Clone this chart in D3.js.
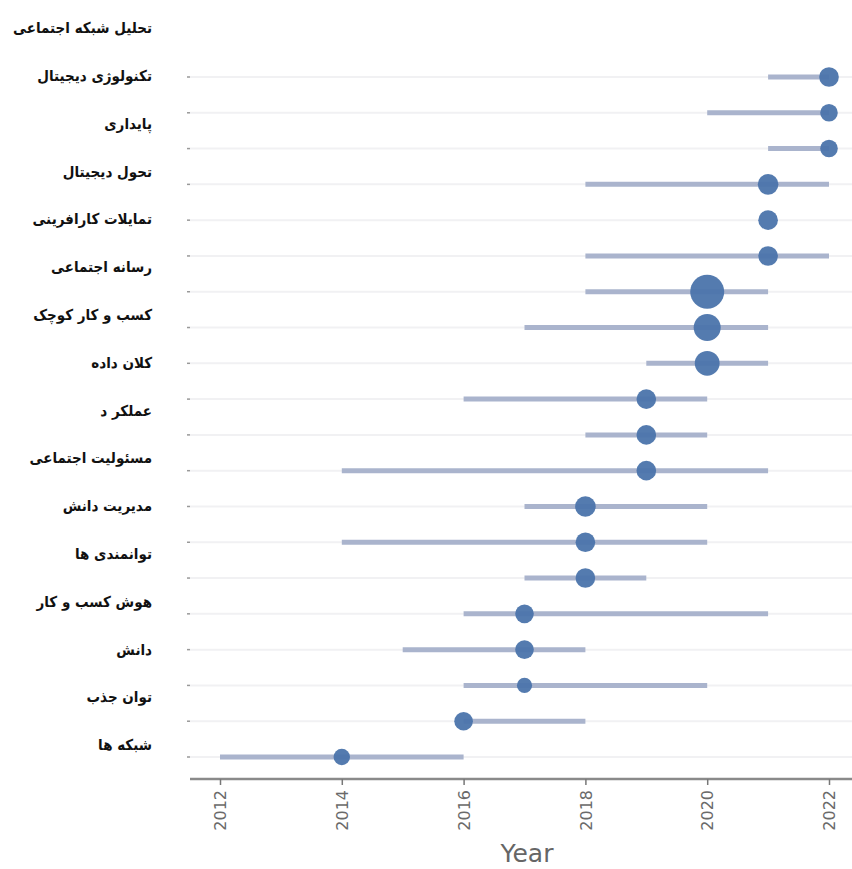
<!DOCTYPE html>
<html><head><meta charset="utf-8">
<script src="https://cdn.jsdelivr.net/npm/d3@7"></script>
<style>body{margin:0;background:#fff}svg{display:block}</style>
</head><body>
<script>
const labels = ["تحلیل شبکه اجتماعی","تکنولوژی دیجیتال","پایداری","تحول دیجیتال","تمایلات کارافرینی","رسانه اجتماعی","کسب و کار کوچک","کلان داده","عملکر د","مسئولیت اجتماعی","مدیریت دانش","توانمندی ها","هوش کسب و کار","دانش","توان جذب","شبکه ها"];
const rowIds = d3.range(1, 21);
const startYear = [2021,2020,2021,2018,2021,2018,2018,2017,2019,2016,2018,2014,2017,2014,2017,2016,2015,2016,2016,2012];
const peakYear  = [2022,2022,2022,2021,2021,2021,2020,2020,2020,2019,2019,2019,2018,2018,2018,2017,2017,2017,2016,2014];
const endYear   = [2022,2022,2022,2022,2021,2022,2021,2021,2021,2020,2020,2021,2020,2020,2019,2021,2018,2020,2018,2016];
const freq      = [10,8,8,11,10,10,30,19,16,10,10,10,11,10,10,9,9,6,9,7];
const xTicks = [2012,2014,2016,2018,2020,2022];

const W = 852, H = 869;
const svg = d3.select("body").append("svg").attr("width", W).attr("height", H);

const x = d3.scaleLinear().domain([2012, 2022]).range([220, 829]);
const y = d3.scalePoint().domain(rowIds).range([77, 757]);
const r = d3.scaleSqrt().domain([0, 30]).range([0, 17]);
const yLab = d3.scalePoint().domain(labels).range([28, 745]);

const rows = rowIds.map((id, i) => ({id, s: startYear[i], p: peakYear[i], e: endYear[i], f: freq[i]}));

// row grid lines
svg.append("g").selectAll("line").data(rows).join("line")
  .attr("x1", 190).attr("x2", W)
  .attr("y1", d => y(d.id)).attr("y2", d => y(d.id))
  .attr("stroke", "#f1f1f3").attr("stroke-width", 2);

// y ticks (small)
svg.append("g").selectAll("line").data(rows).join("line")
  .attr("x1", 187).attr("x2", 190)
  .attr("y1", d => y(d.id)).attr("y2", d => y(d.id))
  .attr("stroke", "#999").attr("stroke-width", 1.5);

// range lines
svg.append("g").selectAll("line").data(rows).join("line")
  .attr("x1", d => x(d.s)).attr("x2", d => x(d.e))
  .attr("y1", d => y(d.id)).attr("y2", d => y(d.id))
  .attr("stroke", "#aab4cd").attr("stroke-width", 5);

// dots
svg.append("g").selectAll("circle").data(rows).join("circle")
  .attr("cx", d => x(d.p)).attr("cy", d => y(d.id)).attr("r", d => r(d.f))
  .attr("fill", "#4b74ab").attr("fill-opacity", 0.95);

// x axis
const axisY = 779;
const ax = svg.append("g").attr("transform", `translate(0,${axisY})`)
  .call(d3.axisBottom(x).tickValues(xTicks).tickFormat(d3.format("d")).tickSize(6).tickSizeOuter(0));
ax.select(".domain").attr("stroke", "#8a8a8a").attr("stroke-width", 2.5)
  .attr("d", `M190,0H${W}`);
ax.selectAll(".tick line").attr("stroke", "#777").attr("stroke-width", 1.5);
ax.selectAll(".tick text")
  .attr("transform", "rotate(-90)")
  .attr("x", -11).attr("y", 0).attr("dy", "0.35em")
  .attr("text-anchor", "end")
  .attr("fill", "#6a6a6a").attr("font-size", 16).attr("font-family", "DejaVu Sans, sans-serif");

svg.append("text").attr("x", 527).attr("y", 862).attr("text-anchor", "middle")
  .attr("font-family", "DejaVu Sans, sans-serif").attr("font-size", 25).attr("fill", "#666")
  .text("Year");

// left labels
svg.append("g").selectAll("text").data(labels).join("text")
  .attr("x", 152).attr("y", d => yLab(d)).attr("dy", "0.35em")
  .attr("text-anchor", "start").attr("direction", "rtl")
  .attr("font-family", "DejaVu Sans Condensed, DejaVu Sans, sans-serif").attr("font-stretch", "condensed")
  .attr("font-weight", "bold").attr("font-size", 15)
  .attr("fill", "#111")
  .text(d => d);
</script>
</body></html>
